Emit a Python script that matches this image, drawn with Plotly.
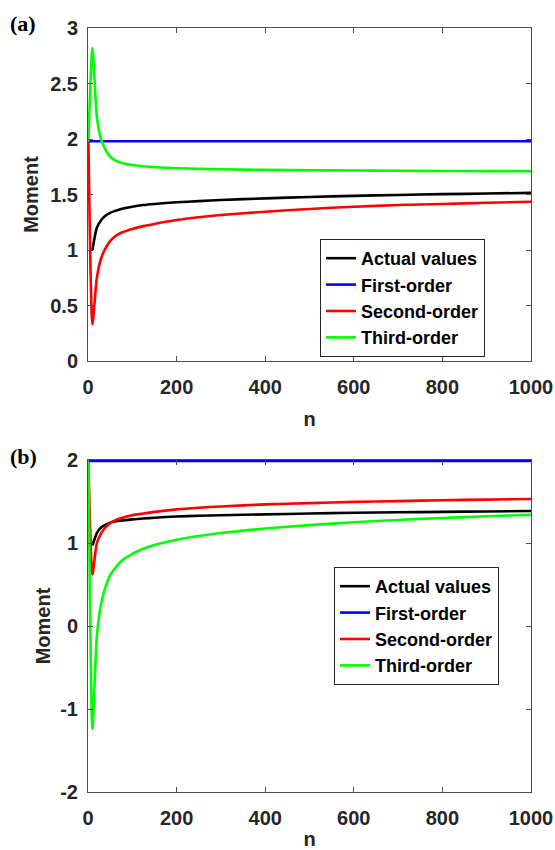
import plotly.graph_objects as go

# ---------------- data ----------------
n_vals = [1, 10, 20, 30, 40, 50, 60, 75, 100, 125, 150, 200, 250, 300, 400, 500, 600, 700, 800, 900, 1000]
n_actual = n_vals[1:]

# panel (a)
a_actual = [1.00, 1.20, 1.27, 1.31, 1.335, 1.35, 1.37, 1.39, 1.405, 1.415, 1.43, 1.44, 1.45, 1.465, 1.478, 1.488, 1.496, 1.503, 1.509, 1.515]
a_first = [1.98] * len(n_vals)
a_second = [1.98, 0.33, 0.75, 0.93, 1.02, 1.08, 1.12, 1.155, 1.19, 1.215, 1.235, 1.27, 1.295, 1.315, 1.345, 1.37, 1.39, 1.405, 1.415, 1.425, 1.435]
a_third = [1.98, 2.82, 2.20, 1.99, 1.90, 1.84, 1.81, 1.785, 1.765, 1.755, 1.747, 1.737, 1.731, 1.727, 1.722, 1.718, 1.716, 1.714, 1.712, 1.711, 1.71]

# panel (b)
b_actual = [0.97, 1.12, 1.19, 1.22, 1.245, 1.26, 1.27, 1.285, 1.295, 1.305, 1.32, 1.328, 1.335, 1.345, 1.355, 1.365, 1.37, 1.375, 1.38, 1.385]
b_first = [1.99] * len(n_vals)
b_second = [1.98, 0.62, 1.00, 1.12, 1.19, 1.24, 1.27, 1.30, 1.335, 1.355, 1.375, 1.405, 1.425, 1.44, 1.465, 1.48, 1.495, 1.505, 1.515, 1.523, 1.53]
b_third = [1.98, -1.24, -0.12, 0.28, 0.48, 0.61, 0.69, 0.78, 0.87, 0.93, 0.975, 1.04, 1.085, 1.12, 1.175, 1.215, 1.25, 1.278, 1.302, 1.322, 1.34]

y_ticks_a = [0, 0.5, 1, 1.5, 2, 2.5, 3]
y_labels_a = ["0", "0.5", "1", "1.5", "2", "2.5", "3"]
y_ticks_b = [-2, -1, 0, 1, 2]
y_labels_b = ["-2", "-1", "0", "1", "2"]
x_ticks = [0, 200, 400, 600, 800, 1000]
x_labels = ["0", "200", "400", "600", "800", "1000"]

names = ["Actual values", "First-order", "Second-order", "Third-order"]
colors = ["#000000", "#0000FF", "#FF0000", "#00FF00"]

W, H = 555, 850
LW = 2.6
SANS = "Liberation Sans, Arial"

fig = go.Figure()

def add_panel(xa, ya, leg, series):
    for (xs, ys), name, col in zip(series, names, colors):
        fig.add_trace(go.Scatter(
            x=xs, y=ys, mode="lines", name=name,
            line=dict(color=col, width=LW, shape="spline", smoothing=0.6),
            xaxis=xa, yaxis=ya, legend=leg, showlegend=True))

add_panel("x", "y", "legend",
          [(n_actual, a_actual), (n_vals, a_first), (n_vals, a_second), (n_vals, a_third)])
add_panel("x2", "y2", "legend2",
          [(n_actual, b_actual), (n_vals, b_first), (n_vals, b_second), (n_vals, b_third)])

xd = [88 / W, 531 / W]
yd_a = [1 - 361 / H, 1 - 28 / H]
yd_b = [1 - 792 / H, 1 - 460 / H]

tickfont = dict(family=SANS, size=20, color="#262626", weight="bold")
titlefont = dict(family=SANS, size=20, color="#262626", weight="bold")
axis_common = dict(
    showline=True, linecolor="#4d4d4d", linewidth=1, mirror="ticks",
    ticks="inside", ticklen=5, tickcolor="#4d4d4d", showgrid=False,
    zeroline=False, tickfont=tickfont, automargin=False,
)
legfont = dict(family=SANS, size=18, color="#000000", weight="bold")

fig.update_layout(
    width=W, height=H,
    margin=dict(l=0, r=0, t=0, b=0),
    paper_bgcolor="white", plot_bgcolor="white",
    xaxis=dict(domain=xd, anchor="y", range=[0, 1000], tickvals=x_ticks, ticktext=x_labels,
               ticklabelstandoff=8,
               title=dict(text="n", font=titlefont, standoff=14), **axis_common),
    yaxis=dict(domain=yd_a, anchor="x", range=[0, 3], tickvals=y_ticks_a, ticktext=y_labels_a,
               ticklabelstandoff=5,
               title=dict(text="Moment", font=titlefont, standoff=6), **axis_common),
    xaxis2=dict(domain=xd, anchor="y2", range=[0, 1000], tickvals=x_ticks, ticktext=x_labels,
                ticklabelstandoff=8,
                title=dict(text="n", font=titlefont, standoff=16), **axis_common),
    yaxis2=dict(domain=yd_b, anchor="x2", range=[-2, 2], tickvals=y_ticks_b, ticktext=y_labels_b,
                ticklabelstandoff=5,
                title=dict(text="Moment", font=titlefont, standoff=4), **axis_common),
    legend=dict(x=320 / W, y=1 - 239 / H, xanchor="left", yanchor="top",
                bgcolor="white", bordercolor="#262626", borderwidth=1,
                font=legfont, tracegroupgap=0, itemwidth=30),
    legend2=dict(x=334 / W, y=1 - 567 / H, xanchor="left", yanchor="top",
                 bgcolor="white", bordercolor="#262626", borderwidth=1,
                 font=legfont, tracegroupgap=0, itemwidth=30),
    annotations=[
        dict(text="<b>(a)</b>", x=8 / W, y=1 - 24 / H, xref="paper", yref="paper",
             xanchor="left", yanchor="middle", showarrow=False,
             font=dict(family="Liberation Serif, Times New Roman", size=22, color="#000000")),
        dict(text="<b>(b)</b>", x=8 / W, y=1 - 457 / H, xref="paper", yref="paper",
             xanchor="left", yanchor="middle", showarrow=False,
             font=dict(family="Liberation Serif, Times New Roman", size=22, color="#000000")),
    ],
)

fig.write_html("out.html", config={"displayModeBar": False},
               post_script="document.body.style.margin='0';document.body.style.overflow='hidden';")
